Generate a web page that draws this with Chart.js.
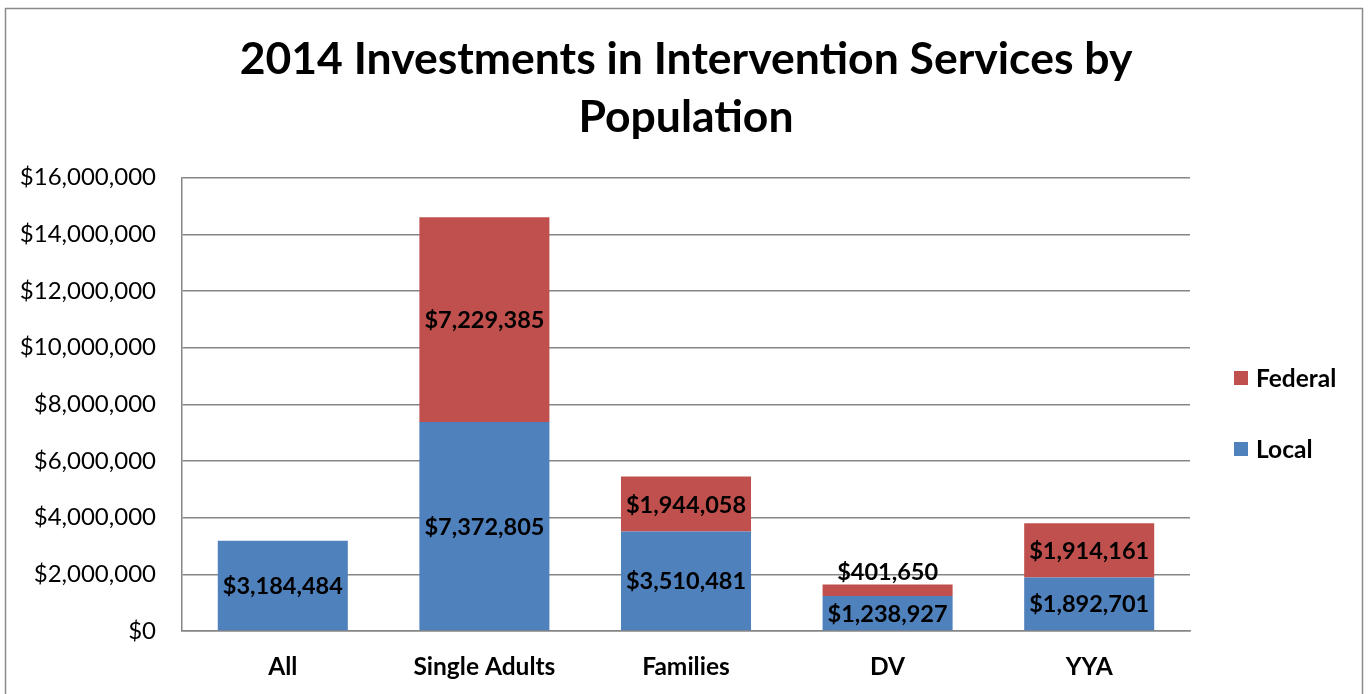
<!DOCTYPE html>
<html>
<head>
<meta charset="utf-8">
<script src="https://cdn.jsdelivr.net/npm/chart.js@4.4.0/dist/chart.umd.min.js"></script>
<style>
html,body{margin:0;padding:0;background:#fff;}
#wrap{width:1372px;height:694px;position:relative;}
</style>
</head>
<body>
<div id="wrap"><canvas id="c" width="1372" height="694"></canvas></div>
<script>
const categories = ['All', 'Single Adults', 'Families', 'DV', 'YYA'];
const localValues = [3184484, 7372805, 3510481, 1238927, 1892701];
const federalValues = [0, 7229385, 1944058, 401650, 1914161];
const titleLines = ['2014 Investments in Intervention Services by', 'Population'];
const yTickMax = 16000000;
const yTickStep = 2000000;

const FONT = 'Lato, "Open Sans", sans-serif';
const fmt = v => '$' + Math.round(v).toLocaleString('en-US');

const borderPlugin = {
  id: 'frame',
  afterDraw(chart) {
    const ctx = chart.ctx;
    ctx.save();
    ctx.strokeStyle = '#8a8a8a';
    ctx.lineWidth = 1.5;
    ctx.strokeRect(5.5, 8.5, 1357, 700);
    ctx.restore();
  }
};

const labelPlugin = {
  id: 'barLabels',
  afterDatasetsDraw(chart) {
    const ctx = chart.ctx;
    ctx.save();
    ctx.font = 'bold 23.5px ' + FONT;
    ctx.fillStyle = '#000';
    ctx.textAlign = 'center';
    ctx.textBaseline = 'middle';
    chart.data.datasets.forEach((ds, di) => {
      const meta = chart.getDatasetMeta(di);
      meta.data.forEach((el, i) => {
        const v = ds.data[i];
        if (!v) return;
        const h = el.base - el.y;
        let y = (el.y + el.base) / 2;
        if (h < 26) y = el.y - 13;
        ctx.fillText(fmt(v), el.x, y + 1);
      });
    });
    ctx.restore();
  }
};

const legendPlugin = {
  id: 'sideLegend',
  afterDraw(chart) {
    const ctx = chart.ctx;
    ctx.save();
    const ds = chart.data.datasets.slice().reverse();
    const ys = [378, 449];
    ctx.font = 'bold 24.5px ' + FONT;
    ctx.textBaseline = 'middle';
    ctx.textAlign = 'left';
    ds.forEach((d, i) => {
      ctx.fillStyle = d.backgroundColor;
      ctx.fillRect(1234, ys[i] - 7, 14, 14);
      ctx.fillStyle = '#000';
      ctx.fillText(d.label, 1256, ys[i] + 1);
    });
    ctx.restore();
  }
};

new Chart(document.getElementById('c'), {
  type: 'bar',
  data: {
    labels: categories,
    datasets: [
      { label: 'Local', data: localValues, backgroundColor: '#4F81BD', borderWidth: 0 },
      { label: 'Federal', data: federalValues, backgroundColor: '#C0504D', borderWidth: 0 }
    ]
  },
  options: {
    responsive: false,
    animation: false,
    devicePixelRatio: 1,
    layout: { padding: { left: 0, right: 0, top: 31, bottom: 0 } },
    datasets: { bar: { categoryPercentage: 1.0, barPercentage: 0.645 } },
    plugins: {
      legend: { display: false },
      tooltip: { enabled: false },
      title: {
        display: true,
        text: titleLines,
        color: '#000',
        font: { family: FONT, size: 44.5, weight: 'bold', lineHeight: 1.3 },
        padding: { top: 0, bottom: 31 }
      }
    },
    scales: {
      x: {
        stacked: true,
        grid: { display: false, drawTicks: false },
        border: { display: true, color: '#868686', width: 1.5 },
        ticks: { color: '#000', padding: 21, font: { family: FONT, size: 24.5, weight: 'bold' } },
        afterFit(s) { s.height = 63; }
      },
      y: {
        stacked: true,
        min: 0,
        max: yTickMax,
        grid: { color: '#868686', lineWidth: 1.5, drawTicks: false },
        border: { display: true, color: '#868686', width: 1.5 },
        ticks: {
          stepSize: yTickStep,
          color: '#000',
          padding: 26,
          font: { family: FONT, size: 24 },
          callback: v => fmt(v)
        },
        afterFit(s) { s.width = 182; }
      },
      legendSpace: {
        type: 'linear',
        position: 'right',
        display: true,
        min: 0,
        max: 1,
        grid: { display: false, drawTicks: false },
        border: { display: false },
        ticks: { display: false },
        afterFit(s) { s.width = 182; }
      }
    }
  },
  plugins: [borderPlugin, labelPlugin, legendPlugin]
});
</script>
</body>
</html>
